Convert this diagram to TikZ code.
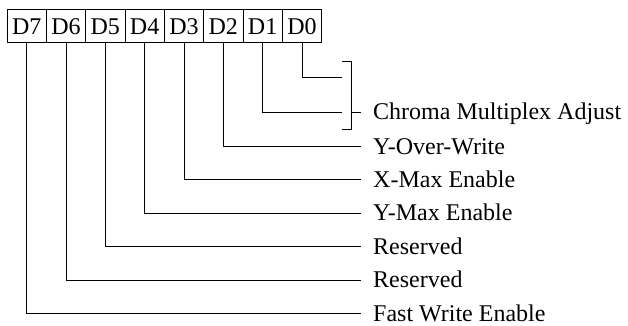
\documentclass[tikz,border=0pt]{standalone}
\usepackage{fontspec}
\setmainfont{Liberation Serif}
\begin{document}
\begin{tikzpicture}[x=1pt,y=-1pt,
  bitbox/.style={draw,line width=0.9pt,minimum width=39.33pt,minimum height=33.7pt,inner sep=0pt,
    text height=17pt,text depth=0pt,font=\fontsize{24}{28}\selectfont},
  lbl/.style={anchor=west,inner xsep=12pt,inner ysep=0pt,text height=15pt,text depth=0pt,
    font=\fontsize{24}{28}\selectfont},
  wire/.style={line width=0.9pt}]
\useasboundingbox (0,0) rectangle (628,326);
% register boxes
\foreach \i/\n in {0/7,1/6,2/5,3/4,4/3,5/2,6/1,7/0}{
  \node[bitbox] (b\n) at ({26.67+39.33*\i},25.85) {D\n};
}
% labels
\node[lbl] (lc) at (361,112) {Chroma Multiplex Adjust};
\node[lbl] (l2) at (361,146.5) {Y-Over-Write};
\node[lbl] (l3) at (361,179.9) {X-Max Enable};
\node[lbl] (l4) at (361,213.3) {Y-Max Enable};
\node[lbl] (l5) at (361,246.7) {Reserved};
\node[lbl] (l6) at (361,280.1) {Reserved};
\node[lbl] (l7) at (361,313.5) {Fast Write Enable};
% bracket coordinates
\coordinate (c0) at (342,77);
\coordinate (c1) at (342,112);
\coordinate (bt) at (342,61);
\coordinate (bb) at (342,129);
\coordinate (bm) at (351,112);
% wires
\draw[wire] (b0.south) |- (c0);
\draw[wire] (b1.south) |- (c1);
\draw[wire] (b2.south) |- (l2.west);
\draw[wire] (b3.south) |- (l3.west);
\draw[wire] (b4.south) |- (l4.west);
\draw[wire] (b5.south) |- (l5.west);
\draw[wire] (b6.south) |- (l6.west);
\draw[wire] (b7.south) |- (l7.west);
% bracket
\draw[wire] (bt) -- ++(9,0) |- (bb);
\draw[wire] (bm) -- (lc.west);
\end{tikzpicture}
\end{document}
